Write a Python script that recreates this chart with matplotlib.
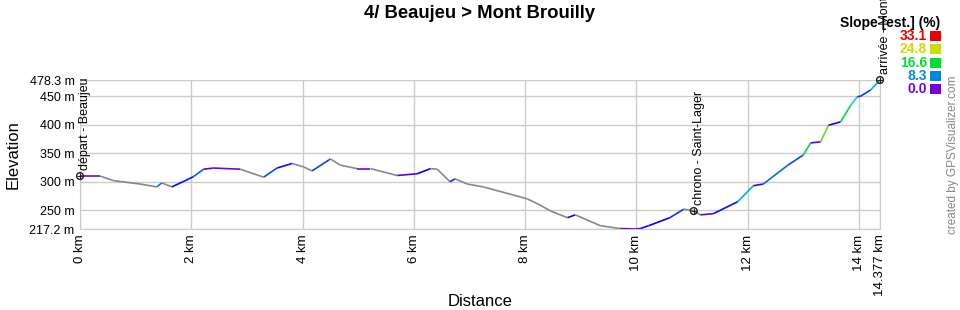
import matplotlib
matplotlib.use("Agg")
import matplotlib.pyplot as plt
import numpy as np
from matplotlib.collections import LineCollection
from matplotlib.colors import LinearSegmentedColormap
from matplotlib.patches import Rectangle

plt.rcParams['font.family'] = ['Liberation Sans', 'DejaVu Sans']

# profile
dist_km = [0, 0.36, 0.6, 1.08, 1.38, 1.47, 1.65, 1.85, 2.04, 2.22, 2.4, 2.88, 3.3, 3.54, 3.81,
           4.02, 4.17, 4.47, 4.5, 4.68, 4.98, 5.22, 5.7, 6.06, 6.3, 6.42, 6.65, 6.74, 6.96, 7.25,
           7.55, 8.04, 8.27, 8.45, 8.76, 8.9, 9.35, 9.71, 9.98, 10.07, 10.22, 10.6, 10.85, 11.03,
           11.15, 11.38, 11.82, 12.1, 12.28, 12.72, 13.0, 13.13, 13.31, 13.45, 13.67, 13.85, 13.97,
           14.03, 14.21, 14.377]
elev_m = [310, 310, 302, 296, 291, 298, 291, 300, 309, 322, 324, 322, 308, 324, 332,
          326, 319, 338, 340, 329, 323, 323, 311, 314, 323, 322, 300, 305, 296, 291,
          283, 270, 259, 249, 237, 242, 223, 218, 217.2, 218, 223, 237, 252, 249,
          242, 244, 265, 293, 296, 329, 347, 368, 370, 399, 405, 434, 449,
          450, 461, 478.3]

waypoint_km = [0, 11.03, 14.377]
waypoint_m = [310, 248.7, 478.3]
waypoint_names = ["départ - Beaujeu", "chrono - Saint-Lager", "arrivée - Mont Brouilly"]

legend_vals = ["33.1", "24.8", "16.6", "8.3", "0.0"]
legend_cols = ["#ee0000", "#ccdd00", "#00dd33", "#0088dd", "#7700dd"]

yticks = [217.2, 250, 300, 350, 400, 450, 478.3]
xticks = [0, 2, 4, 6, 8, 10, 12, 14, 14.377]

x = np.array(dist_km)
y = np.array(elev_m)
slope = np.diff(y) / (np.diff(x) * 1000) * 100

cmap = LinearSegmentedColormap.from_list("slope", [
    (0.0, "#7700dd"), (4 / 33.1, "#0000ff"), (8.3 / 33.1, "#0088dd"),
    (12 / 33.1, "#00dddd"), (16.6 / 33.1, "#00dd33"), (24.8 / 33.1, "#ccdd00"),
    (1.0, "#ee0000")])
cols = [cmap(min(s, 33.1) / 33.1) if s >= -0.5 else "#888888" for s in slope]

fig = plt.figure(figsize=(9.6, 3.1), dpi=100)
ax = fig.add_axes([80 / 960, 1 - 229 / 310, 800 / 960, 149 / 310])

segs = np.stack([np.column_stack([x[:-1], y[:-1]]), np.column_stack([x[1:], y[1:]])], axis=1)
ax.add_collection(LineCollection(segs, colors=cols, linewidths=1.2, zorder=3))

ax.set_xlim(0, 14.377)
ax.set_ylim(217.2, 478.3)
ax.set_xticks(xticks)
ax.set_xticklabels([f"{t:g} km" for t in xticks], rotation=90, fontsize=9.5)
ax.set_yticks(yticks)
ax.set_yticklabels([f"{t:g} m" for t in yticks], fontsize=9)
ax.tick_params(length=0, pad=4)
ax.grid(True, color="#cccccc", linewidth=1)
for sp in ax.spines.values():
    sp.set_color("#cccccc")
ax.set_axisbelow(True)

ax.set_ylabel("Elevation", fontsize=12, labelpad=6)
fig.text(480 / 960, 1 - 302 / 310, "Distance", ha="center", va="center", fontsize=12)

ax.scatter(waypoint_km, waypoint_m, s=24, facecolors="none", edgecolors="#222222",
           linewidths=1, zorder=5, clip_on=False)
ax.scatter(waypoint_km, waypoint_m, s=20, marker="+", color="#222222",
           linewidths=0.8, zorder=5, clip_on=False)
for wx, wy, name in zip(waypoint_km, waypoint_m, waypoint_names):
    ax.annotate(name, (wx, wy), xytext=(5, 6), textcoords="offset pixels",
                rotation=90, ha="center", va="bottom", fontsize=9,
                annotation_clip=False)

fig.text(0.5, 1 - 14 / 310, "4/ Beaujeu > Mont Brouilly", ha="center", va="center",
         fontsize=13.3, fontweight="bold")

fig.text(890 / 960, 1 - 23 / 310, "Slope [est.] (%)", ha="center", va="center",
         fontsize=10, fontweight="bold")
for i, (v, c) in enumerate(zip(legend_vals, legend_cols)):
    yy = 36 + i * 13.3
    fig.text(927 / 960, 1 - yy / 310, v, ha="right", va="center", fontsize=10,
             fontweight="bold", color=c)
    fig.patches.append(Rectangle((930 / 960, 1 - (yy + 5) / 310), 11 / 960, 10 / 310,
                                 transform=fig.transFigure, facecolor=c, edgecolor="none"))

fig.text(953 / 960, 1 - 155 / 310, "created by GPSVisualizer.com", rotation=90,
         ha="center", va="center", fontsize=8.5, color="#888888")

fig.savefig("out.png", dpi=100)
